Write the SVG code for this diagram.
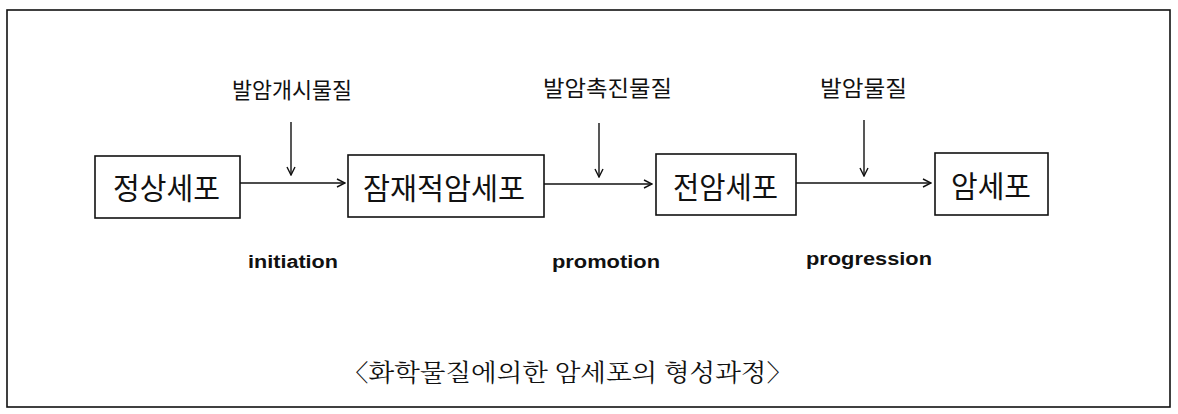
<svg xmlns="http://www.w3.org/2000/svg" width="1178" height="414" viewBox="0 0 1178 414">
<defs>
<marker id="ah" viewBox="0 0 10 10" refX="9" refY="5" markerWidth="10" markerHeight="10" markerUnits="userSpaceOnUse" orient="auto">
<path d="M1,1 L9,5 L1,9" fill="none" stroke="#111" stroke-width="1.4"/>
</marker>
<style>
.box{fill:#fff;stroke:#111;stroke-width:1.6}
.bt{font-family:"Noto Sans CJK KR","Noto Sans",sans-serif;font-size:30px;fill:#111}
.lb{font-family:"Noto Sans CJK KR","Noto Sans",sans-serif;font-size:22px;fill:#111}
.en{font-family:"Liberation Sans",Arial,sans-serif;font-size:18px;font-weight:bold;fill:#111}
.cap{font-family:"Noto Serif CJK KR","Noto Sans CJK KR",serif;font-size:24px;fill:#111}
.ln{stroke:#111;stroke-width:1.4;fill:none}
</style>
</defs>
<rect x="0" y="0" width="1178" height="414" fill="#fff"/>
<rect id="frame" x="7" y="10" width="1163" height="397" fill="none" stroke="#111" stroke-width="1.6"/>

<g id="connectors">
<line class="ln" x1="240" y1="183" x2="345" y2="183" marker-end="url(#ah)"/>
<line class="ln" x1="544" y1="184" x2="652" y2="184" marker-end="url(#ah)"/>
<line class="ln" x1="796" y1="183" x2="931" y2="183" marker-end="url(#ah)"/>
<line class="ln" x1="291" y1="122" x2="291" y2="175" marker-end="url(#ah)"/>
<line class="ln" x1="599" y1="123" x2="599" y2="177" marker-end="url(#ah)"/>
<line class="ln" x1="864" y1="120" x2="864" y2="176" marker-end="url(#ah)"/>
</g>

<g id="node-normal">
<rect class="box" x="95" y="156" width="145" height="62"/>
<text class="bt" x="113" y="199" textLength="107" lengthAdjust="spacingAndGlyphs">정상세포</text>
</g>
<g id="node-latent">
<rect class="box" x="348" y="155" width="196" height="62"/>
<text class="bt" x="363" y="199" textLength="162" lengthAdjust="spacingAndGlyphs">잠재적암세포</text>
</g>
<g id="node-precancer">
<rect class="box" x="656" y="154" width="140" height="61"/>
<text class="bt" x="673" y="198" textLength="105" lengthAdjust="spacingAndGlyphs">전암세포</text>
</g>
<g id="node-cancer">
<rect class="box" x="935" y="153" width="113" height="62"/>
<text class="bt" x="951" y="197" textLength="80" lengthAdjust="spacingAndGlyphs">암세포</text>
</g>

<g id="label-initiator">
<text class="lb" x="232" y="98" textLength="120" lengthAdjust="spacingAndGlyphs">발암개시물질</text>
</g>
<g id="label-promoter">
<text class="lb" x="543" y="96" textLength="129" lengthAdjust="spacingAndGlyphs">발암촉진물질</text>
</g>
<g id="label-carcinogen">
<text class="lb" x="820" y="96" textLength="87" lengthAdjust="spacingAndGlyphs">발암물질</text>
</g>

<g id="stage-labels">
<text class="en" x="248" y="268" textLength="90" lengthAdjust="spacingAndGlyphs">initiation</text>
<text class="en" x="552" y="268" textLength="108" lengthAdjust="spacingAndGlyphs">promotion</text>
<text class="en" x="806" y="265" textLength="126" lengthAdjust="spacingAndGlyphs">progression</text>
</g>

<g id="caption">
<text class="cap" x="342" y="381" textLength="451" lengthAdjust="spacingAndGlyphs">〈화학물질에의한 암세포의 형성과정〉</text>
</g>
</svg>
